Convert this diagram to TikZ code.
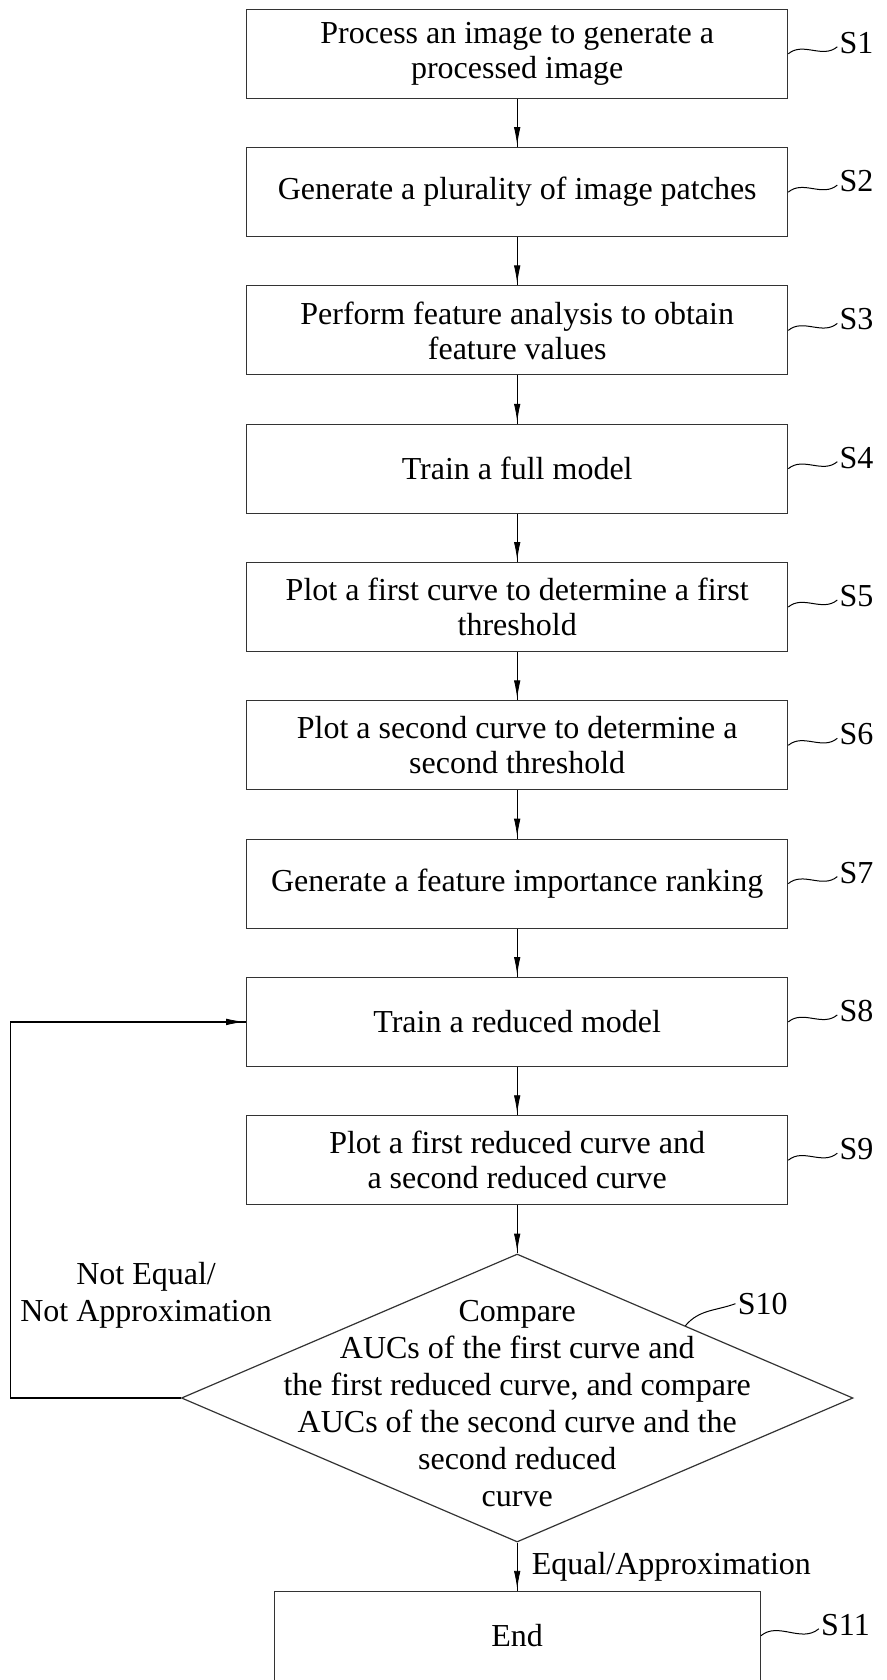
\documentclass[tikz,border=0pt]{standalone}
\usepackage{fontspec}
\setmainfont{Liberation Serif}
\usetikzlibrary{positioning, calc, shapes.geometric, arrows.meta, decorations.markings}
\tikzstyle{Step} = [
draw=black!80, line width=0.6pt,
minimum width=270.5pt, minimum height=44.5pt,
align=center, inner sep=0pt]
\tikzstyle{Decision} = [
diamond, draw=black!80, line width=0.6pt,
minimum width=335.8pt, minimum height=144pt, inner sep=0pt]
\tikzstyle{Tag} = [inner sep=1pt]
\tikzstyle{Wave} = [line width=0.5pt]
\tikzstyle{Arrow} = [
line width=0.6pt,
decoration={
markings,
mark=at position 0.9999 with {
\arrow{Latex[length=10pt, width=3.5pt]}}},
preaction = {decorate}]

\begin{document}
\begin{tikzpicture}[node distance=24.05pt, font=\fontsize{16}{17.5}\selectfont]
    \useasboundingbox (-258.6pt,26.9pt) rectangle (184.9pt,-813.1pt);

    \node [Step] (s1) at (0,0) {Process an image to generate a\\processed image};
    \node [Step, below =of s1] (s2) {Generate a plurality of image patches};
    \node [Step, below =of s2] (s3) {Perform feature analysis to obtain\\feature values};
    \node [Step, below =of s3] (s4) {Train a full model};
    \node [Step, below =of s4] (s5) {Plot a first curve to determine a first\\threshold};
    \node [Step, below =of s5] (s6) {Plot a second curve to determine a\\second threshold};
    \node [Step, below =of s6] (s7) {Generate a feature importance ranking};
    \node [Step, below =of s7] (s8) {Train a reduced model};
    \node [Step, below =of s8] (s9) {Plot a first reduced curve and\\a second reduced curve};
    \node [Decision, below =of s9] (s10) {};
    \node [align=center, font=\fontsize{16}{18.5}\selectfont, yshift=-3pt] (t10) at (s10)
        {Compare\\AUCs of the first curve and\\the first reduced curve, and compare\\AUCs of the second curve and the\\second reduced\\curve};
    \node [Step, minimum width=243pt, below =of s10] (s11) {End};
    \node [align=center, font=\fontsize{16}{18.3}\selectfont] (no) at ($(s10.west)+(-17.35pt,51.35pt)$) {Not Equal/\\Not Approximation};

    % step numbers
    \node [Tag, right =24.5pt of s1.east, yshift=5.5pt] (l1) {S1};
    \node [Tag, right =24.5pt of s2.east, yshift=5.5pt] (l2) {S2};
    \node [Tag, right =24.5pt of s3.east, yshift=5.5pt] (l3) {S3};
    \node [Tag, right =24.5pt of s4.east, yshift=5.5pt] (l4) {S4};
    \node [Tag, right =24.5pt of s5.east, yshift=5.5pt] (l5) {S5};
    \node [Tag, right =24.5pt of s6.east, yshift=5.5pt] (l6) {S6};
    \node [Tag, right =24.5pt of s7.east, yshift=5.5pt] (l7) {S7};
    \node [Tag, right =24.5pt of s8.east, yshift=5.5pt] (l8) {S8};
    \node [Tag, right =24.5pt of s9.east, yshift=5.5pt] (l9) {S9};
    \node [Tag, right =25pt of s10.north east, yshift=11pt] (l10) {S10};
    \node [Tag, right =29pt of s11.east, yshift=5.5pt] (l11) {S11};

    \draw[Wave] (s1.east) to [out=40, in=220] ([yshift=-2pt]l1.west);
    \draw[Wave] (s2.east) to [out=40, in=220] ([yshift=-2pt]l2.west);
    \draw[Wave] (s3.east) to [out=40, in=220] ([yshift=-2pt]l3.west);
    \draw[Wave] (s4.east) to [out=40, in=220] ([yshift=-2pt]l4.west);
    \draw[Wave] (s5.east) to [out=40, in=220] ([yshift=-2pt]l5.west);
    \draw[Wave] (s6.east) to [out=40, in=220] ([yshift=-2pt]l6.west);
    \draw[Wave] (s7.east) to [out=40, in=220] ([yshift=-2pt]l7.west);
    \draw[Wave] (s8.east) to [out=40, in=220] ([yshift=-2pt]l8.west);
    \draw[Wave] (s9.east) to [out=40, in=220] ([yshift=-2pt]l9.west);
    \draw[Wave] (s10.north east) to [out=50, in=200] (l10.west);
    \draw[Wave] (s11.east) to [out=40, in=220] ([yshift=-2pt]l11.west);

    \draw[Arrow] (s1.south)--(s2.north);
    \draw[Arrow] (s2.south)--(s3.north);
    \draw[Arrow] (s3.south)--(s4.north);
    \draw[Arrow] (s4.south)--(s5.north);
    \draw[Arrow] (s5.south)--(s6.north);
    \draw[Arrow] (s6.south)--(s7.north);
    \draw[Arrow] (s7.south)--(s8.north);
    \draw[Arrow] (s8.south)--(s9.north);
    \draw[Arrow] (s9.south)--(s10.north);
    \draw[Arrow] (s10.south) -- node [right, inner sep=7pt] (yes) {Equal/Approximation} (s11.north);
    \draw[Arrow] (s10.west) -- ++(-85pt,0) |- (s8.west);
\end{tikzpicture}
\end{document}
